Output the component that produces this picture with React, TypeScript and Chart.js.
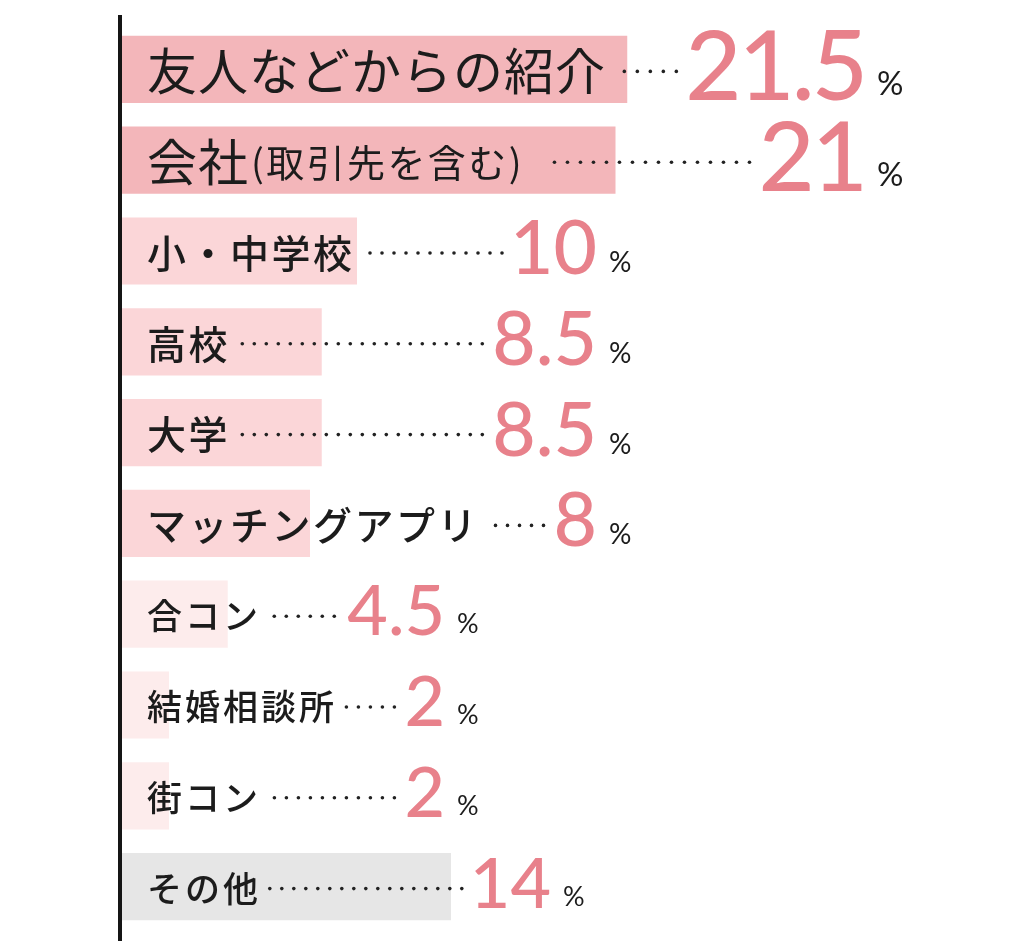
import React, { useEffect, useRef } from "react";
import Chart from "chart.js/auto";

const categories = [
  "友人などからの紹介",
  "会社(取引先を含む)",
  "小・中学校",
  "高校",
  "大学",
  "マッチングアプリ",
  "合コン",
  "結婚相談所",
  "街コン",
  "その他",
];
const values = [21.5, 21, 10, 8.5, 8.5, 8, 4.5, 2, 2, 14];
const valueLabels = ["21.5", "21", "10", "8.5", "8.5", "8", "4.5", "2", "2", "14"];
const tierOfRow = [0, 0, 1, 1, 1, 1, 2, 2, 2, 3];
const barColors = [
  "#f3b6ba",
  "#f3b6ba",
  "#fbd6d8",
  "#fbd6d8",
  "#fbd6d8",
  "#fbd6d8",
  "#fdecec",
  "#fdecec",
  "#fdecec",
  "#e6e6e6",
];

type Tier = {
  labelSize: number;
  labelWeight: number;
  labelSpacing: number;
  subSize: number;
  subSpacing: number;
  valueSize: number;
  valueSpacing: number;
  pctSize: number;
  pctX: number;
  dotStep: number;
};
const tiers: Tier[] = [
  { labelSize: 50, labelWeight: 400, labelSpacing: 1, subSize: 38, subSpacing: 2.4, valueSize: 97, valueSpacing: -3, pctSize: 33, pctX: 877, dotStep: 13 },
  { labelSize: 39, labelWeight: 500, labelSpacing: 2.5, subSize: 30, subSpacing: 2, valueSize: 75, valueSpacing: 0, pctSize: 28, pctX: 609, dotStep: 12 },
  { labelSize: 35, labelWeight: 500, labelSpacing: 3, subSize: 28, subSpacing: 2, valueSize: 70, valueSpacing: 0, pctSize: 27, pctX: 457, dotStep: 12 },
  { labelSize: 35, labelWeight: 500, labelSpacing: 3, subSize: 28, subSpacing: 2, valueSize: 70, valueSpacing: 0, pctSize: 27, pctX: 563, dotStep: 12 },
];

const JP = '"Noto Sans CJK JP", "Noto Sans", sans-serif';
const NUM = 'Lato, "Noto Sans", sans-serif';
const VALUE_COLOR = "#e8818b";
const TEXT_COLOR = "#1c1c1c";

const annotatePlugin = {
  id: "annotate",
  afterDatasetsDraw(chart: any) {
    const ctx = chart.ctx as CanvasRenderingContext2D;
    const area = chart.chartArea;
    // vertical axis line
    ctx.save();
    ctx.fillStyle = "#151515";
    ctx.fillRect(area.left - 4, area.top - 9, 4, chart.height - (area.top - 9));
    ctx.restore();

    const meta = chart.getDatasetMeta(0);
    meta.data.forEach((bar: any, i: number) => {
      const t = tiers[tierOfRow[i]];
      const cy = bar.y;
      const label = categories[i];
      ctx.save();
      ctx.fillStyle = TEXT_COLOR;
      ctx.textBaseline = "middle";
      ctx.textAlign = "left";
      (ctx as any).letterSpacing = `${t.labelSpacing}px`;
      let x = area.left + 25;
      const p = label.indexOf("(");
      const main = p >= 0 ? label.slice(0, p) : label;
      const sub = p >= 0 ? label.slice(p) : "";
      ctx.font = `${t.labelWeight} ${t.labelSize}px ${JP}`;
      ctx.fillText(main, x, cy + 2);
      x += ctx.measureText(main).width;
      if (sub) {
        (ctx as any).letterSpacing = `${t.subSpacing}px`;
        ctx.font = `${t.labelWeight} ${t.subSize}px ${JP}`;
        ctx.fillText(sub, x + 2, cy + 2);
        x += ctx.measureText(sub).width + 16;
      }
      const labelEnd = x;

      // value
      (ctx as any).letterSpacing = `${t.valueSpacing}px`;
      ctx.font = `500 ${t.valueSize}px ${NUM}`;
      ctx.fillStyle = VALUE_COLOR;
      ctx.textAlign = "right";
      ctx.textBaseline = "alphabetic";
      const capH = t.valueSize * 0.72;
      const baseY = cy + capH / 2 - 4;
      const vRight = t.pctX - 12;
      const txt = valueLabels[i];
      ctx.fillText(txt, vRight, baseY);
      const m = ctx.measureText(txt);
      const inkLeft = vRight - m.actualBoundingBoxLeft;

      // percent
      (ctx as any).letterSpacing = "0px";
      ctx.font = `400 ${t.pctSize}px ${NUM}`;
      ctx.fillStyle = TEXT_COLOR;
      ctx.textAlign = "left";
      ctx.fillText("%", t.pctX, baseY - (tierOfRow[i] === 0 ? 5 : 2));

      // dotted leader
      ctx.fillStyle = "#222";
      const dotEnd = inkLeft - 13;
      const dotStart = labelEnd + 7;
      for (let dx = dotEnd; dx >= dotStart; dx -= t.dotStep) {
        ctx.beginPath();
        ctx.arc(dx, cy + 2, 1.8, 0, Math.PI * 2);
        ctx.fill();
      }
      ctx.restore();
    });
  },
};

export default function App() {
  const ref = useRef<HTMLCanvasElement | null>(null);
  useEffect(() => {
    if (!ref.current) return;
    const chart = new Chart(ref.current, {
      type: "bar",
      data: {
        labels: categories,
        datasets: [
          {
            data: values,
            backgroundColor: barColors,
            borderWidth: 0,
            barPercentage: 0.74,
            categoryPercentage: 1,
          },
        ],
      },
      options: {
        indexAxis: "y",
        responsive: false,
        maintainAspectRatio: false,
        animation: false,
        devicePixelRatio: 1,
        layout: { padding: { left: 122, right: 9, top: 24, bottom: 9 } },
        scales: {
          x: { display: false, min: 0, max: 38 },
          y: { display: false },
        },
        plugins: {
          legend: { display: false },
          tooltip: { enabled: false },
        },
      },
      plugins: [annotatePlugin],
    } as any);
    return () => chart.destroy();
  }, []);
  return (
    <div style={{ position: "absolute", left: 0, top: 0, width: 1024, height: 941, background: "#fff" }}>
      <canvas ref={ref} width={1024} height={941} style={{ display: "block" }} />
    </div>
  );
}
